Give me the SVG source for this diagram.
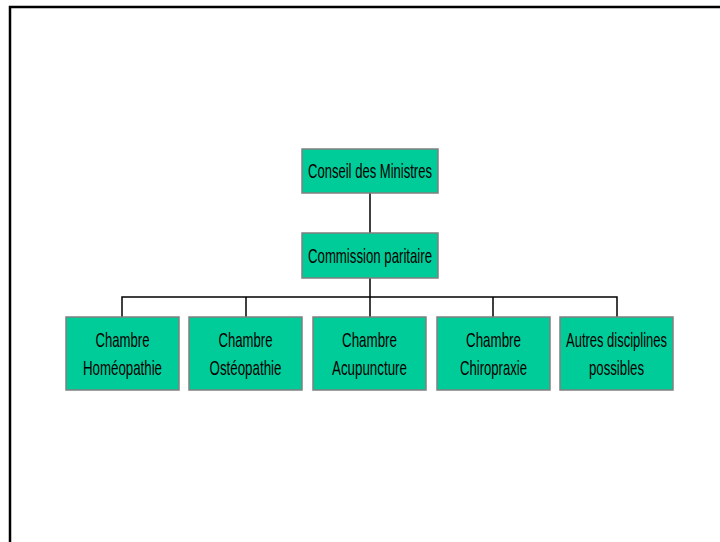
<svg xmlns="http://www.w3.org/2000/svg" width="720" height="542" viewBox="0 0 720 542">
<style>
.box{fill:#00CC99;stroke:#808080;stroke-width:1.5}
.lbl{font-family:"Liberation Sans",Arial,sans-serif;font-size:21px;fill:#000;text-anchor:middle}
.con{stroke:#000;stroke-width:1.5;fill:none}
</style>
<rect x="0" y="0" width="720" height="542" fill="#fff"/>
<path d="M10 542V7H720" stroke="#000" stroke-width="2.5" fill="none"/>
<g id="connectors">
<path class="con" d="M370 193V233"/>
<path class="con" d="M370 278V297"/>
<path class="con" d="M122 317V297H617V317"/>
<path class="con" d="M246 297V317"/>
<path class="con" d="M370 297V317"/>
<path class="con" d="M493 297V317"/>
</g>
<g id="conseil">
<rect class="box" x="302" y="149" width="136" height="44"/>
<text class="lbl" x="370" y="178" textLength="124" lengthAdjust="spacingAndGlyphs">Conseil des Ministres</text>
</g>
<g id="commission">
<rect class="box" x="302" y="233" width="136" height="45"/>
<text class="lbl" x="370" y="263" textLength="124" lengthAdjust="spacingAndGlyphs">Commission paritaire</text>
</g>
<g id="homeopathie">
<rect class="box" x="66" y="317" width="113" height="73"/>
<text class="lbl" x="122.5" y="347" textLength="54" lengthAdjust="spacingAndGlyphs">Chambre</text>
<text class="lbl" x="122.5" y="375" textLength="79" lengthAdjust="spacingAndGlyphs">Homéopathie</text>
</g>
<g id="osteopathie">
<rect class="box" x="189" y="317" width="113" height="73"/>
<text class="lbl" x="245.5" y="347" textLength="54" lengthAdjust="spacingAndGlyphs">Chambre</text>
<text class="lbl" x="245.5" y="375" textLength="72" lengthAdjust="spacingAndGlyphs">Ostéopathie</text>
</g>
<g id="acupuncture">
<rect class="box" x="313" y="317" width="113" height="73"/>
<text class="lbl" x="369.5" y="347" textLength="55" lengthAdjust="spacingAndGlyphs">Chambre</text>
<text class="lbl" x="369.5" y="375" textLength="75" lengthAdjust="spacingAndGlyphs">Acupuncture</text>
</g>
<g id="chiropraxie">
<rect class="box" x="437" y="317" width="113" height="73"/>
<text class="lbl" x="493.5" y="347" textLength="55" lengthAdjust="spacingAndGlyphs">Chambre</text>
<text class="lbl" x="493.5" y="375" textLength="67" lengthAdjust="spacingAndGlyphs">Chiropraxie</text>
</g>
<g id="autres">
<rect class="box" x="560" y="317" width="113" height="73"/>
<text class="lbl" x="616.5" y="347" textLength="101" lengthAdjust="spacingAndGlyphs">Autres disciplines</text>
<text class="lbl" x="616.5" y="375" textLength="55" lengthAdjust="spacingAndGlyphs">possibles</text>
</g>
</svg>
